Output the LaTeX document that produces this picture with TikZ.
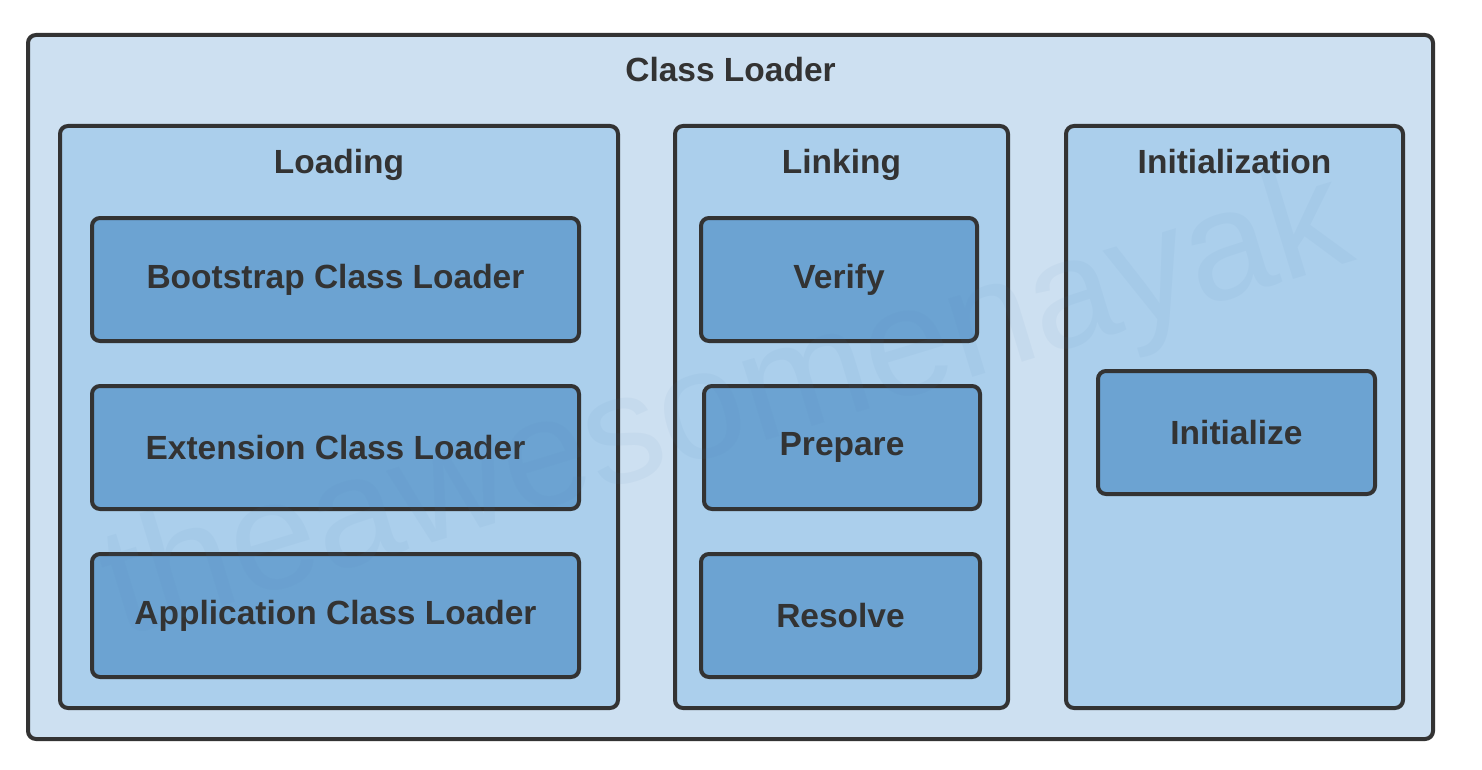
\documentclass[tikz,border=0pt]{standalone}
\usepackage{fontspec}
\setmainfont{Liberation Sans}
\definecolor{outerfill}{HTML}{CDE0F1}
\definecolor{midfill}{HTML}{ABCFEC}
\definecolor{innerfill}{HTML}{6CA3D2}
\definecolor{edge}{HTML}{333333}
\definecolor{wmark}{HTML}{4F7FB0}
\begin{document}
\begin{tikzpicture}[x=1pt,y=-1pt,
  box/.style={draw=edge, line width=4pt, rounded corners=8pt, inner sep=0pt, outer sep=0pt},
  outerbox/.style={box, fill=outerfill},
  stagebox/.style={box, fill=midfill},
  stepbox/.style={box, fill=innerfill, font=\fontsize{33.5}{40}\selectfont\bfseries, text=edge},
  title/.style={font=\fontsize{33.5}{40}\selectfont\bfseries, text=edge, inner sep=0pt, anchor=base}
]
\useasboundingbox (0,0) rectangle (1482,770);
\fill[white] (0,0) rectangle (1482,770);
% outer container
\node[outerbox, minimum width=1405pt, minimum height=704pt] (cl) at (730.5,387) {};
\node[title] (cltitle) at (730.5,82) {Class Loader};
% stages
\node[stagebox, minimum width=558pt, minimum height=582pt] (loading) at (339,417) {};
\node[title] (loadingtitle) at (339,174) {Loading};
\node[stagebox, minimum width=333pt, minimum height=582pt] (linking) at (841.5,417) {};
\node[title] (linkingtitle) at (841.5,174) {Linking};
\node[stagebox, minimum width=337pt, minimum height=582pt] (init) at (1234.5,417) {};
\node[title] (inittitle) at (1234.5,174) {Initialization};
% loading steps
\node[stepbox, minimum width=487pt, minimum height=123pt] (boot) at (335.5,279.5) {Bootstrap Class Loader};
\node[stepbox, minimum width=487pt, minimum height=123pt] (ext) at (335.5,447.5) {Extension Class Loader};
\node[stepbox, minimum width=487pt, minimum height=123pt] (app) at (335.5,615.5) {Application Class Loader};
% linking steps
\node[stepbox, minimum width=276pt, minimum height=123pt] (verify) at (839,279.5) {Verify};
\node[stepbox, minimum width=276pt, minimum height=123pt] (prepare) at (842,447.5) {Prepare};
\node[stepbox, minimum width=279pt, minimum height=123pt] (resolve) at (840.5,615.5) {Resolve};
% initialization step
\node[stepbox, minimum width=277pt, minimum height=123pt] (initialize) at (1236.5,432.5) {Initialize};
% watermark
\node[font=\fontsize{155}{155}\selectfont, text=wmark, text opacity=0.06, rotate=17, inner sep=0pt] (wm) at (728,410) {theawesomenayak};
\end{tikzpicture}
\end{document}
